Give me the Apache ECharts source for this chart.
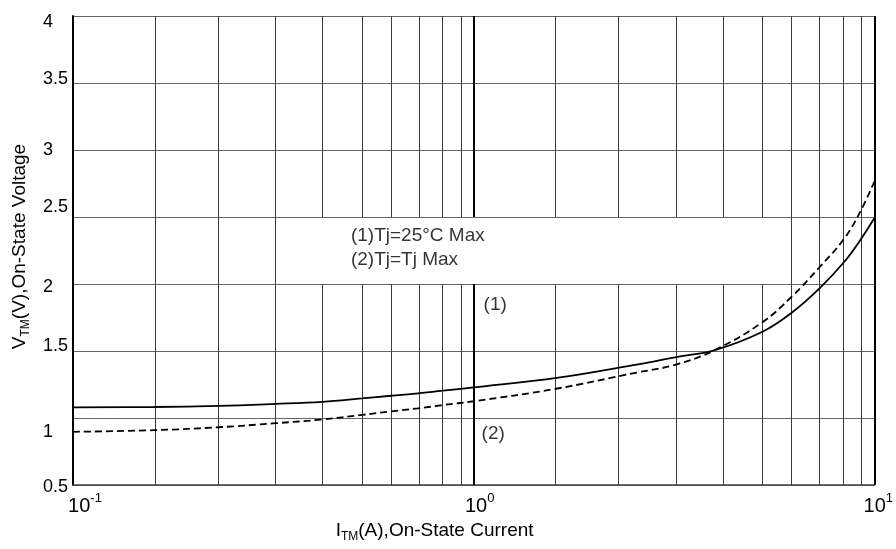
<!DOCTYPE html>
<html>
<head>
<meta charset="utf-8">
<script src="https://cdn.jsdelivr.net/npm/echarts@6/dist/echarts.min.js"></script>
<style>
html,body{margin:0;padding:0;background:#fff;}
#chart{width:896px;height:549px;}
</style>
</head>
<body>
<div id="chart"></div>
<script>
// ---- data ----
const current1 = [0.1, 0.159, 0.231, 0.320, 0.419, 0.526, 0.622, 0.726, 0.837, 1.0, 1.627, 2.573, 3.18, 4.0, 5.26, 6.22, 7.30, 8.42, 9.23, 10];
const voltage1 = [1.080, 1.082, 1.090, 1.105, 1.121, 1.146, 1.166, 1.184, 1.204, 1.228, 1.301, 1.401, 1.453, 1.507, 1.644, 1.786, 1.968, 2.166, 2.328, 2.490];
const current2 = [0.1, 0.159, 0.231, 0.320, 0.419, 0.526, 0.622, 0.726, 0.837, 1.0, 1.59, 2.573, 3.18, 4.0, 5.26, 6.22, 7.30, 8.42, 9.23, 10];
const voltage2 = [0.897, 0.909, 0.931, 0.961, 0.989, 1.023, 1.049, 1.072, 1.096, 1.125, 1.216, 1.341, 1.396, 1.507, 1.715, 1.905, 2.125, 2.340, 2.540, 2.763];

const xDecades = [0.1, 1, 10];
const xTickExp = ['-1', '0', '1'];
const gridMultipliers = [1.6, 2.3, 3.2, 4.2, 5.26, 6.22, 7.3, 8.37, 9.3];
const yTickLabels = ['0.5', '1', '1.5', '2', '2.5', '3', '3.5', '4'];
const boxX = [0.419, 6.22];
const boxY = [2, 2.5];

const annotationText = ['(1)Tj=25°C Max', '(2)Tj=Tj Max', '(1)', '(2)'];
const annotationX = [0.494, 0.494, 1.059, 1.047];
const annotationY = [2.358, 2.179, 1.843, 0.881];

// ---- build ----
const FONT = 'Liberation Sans, Arial, sans-serif';
const yMin = 0.5, yMax = 4;

// vertical grid segments
const vLines = [];
for (let d = 0; d < 2; d++) {
  gridMultipliers.forEach(m => {
    const x = xDecades[d] * m;
    if (x > boxX[0] + 1e-6 && x < boxX[1] - 1e-6) {
      vLines.push([{coord: [x, yMin]}, {coord: [x, boxY[0]]}]);
      vLines.push([{coord: [x, boxY[1]]}, {coord: [x, yMax]}]);
    } else {
      vLines.push([{coord: [x, yMin]}, {coord: [x, yMax]}]);
    }
  });
}
const majorLines = [
  [{coord: [xDecades[1], yMin]}, {coord: [xDecades[1], boxY[0]]}],
  [{coord: [xDecades[1], boxY[1]]}, {coord: [xDecades[1], yMax]}],
  [{coord: [xDecades[2], yMin]}, {coord: [xDecades[2], yMax]}]
];

const yShift = {'4': 6.5, '3.5': -4, '3': 0.5, '2.5': -10, '2': 3, '1.5': -5, '1': 14, '0.5': 2.5};
const yRich = {};
yTickLabels.forEach((t, i) => {
  const d = yShift[t] || 0;
  yRich['l' + i] = {
    fontSize: 18, fontFamily: FONT, color: '#000',
    padding: d >= 0 ? [2 * d, 0, 0, 0] : [0, 0, -2 * d, 0]
  };
});

const xShift = {'-1': 12, '0': 6, '1': 4};

const chart = echarts.init(document.getElementById('chart'), null, {renderer: 'canvas'});
chart.setOption({
  animation: false,
  backgroundColor: '#fff',
  grid: {left: 73, right: 19, top: 16, bottom: 64},
  xAxis: {
    type: 'log', logBase: 10, min: 0.1, max: 10,
    name: '{v|I}{s|TM}{v|(A),On-State Current}',
    nameLocation: 'middle', nameGap: 33,
    nameTextStyle: {
      padding: [0, 78, 0, 0],
      rich: {
        v: {fontSize: 19, fontFamily: FONT, color: '#000', lineHeight: 24},
        s: {fontSize: 12, fontFamily: FONT, color: '#000', lineHeight: 12, verticalAlign: 'bottom'}
      }
    },
    axisLine: {show: true, lineStyle: {color: '#444', width: 1.5}},
    axisTick: {show: false},
    splitLine: {show: false},
    minorTick: {show: false},
    axisLabel: {
      margin: 7,
      formatter: function (v) {
        const i = xDecades.findIndex(d => Math.abs(d - v) / d < 1e-6);
        if (i < 0) return '';
        const e = xTickExp[i];
        return '{p' + i + '|}{b|10}{s|' + e + '}';
      },
      rich: {
        b: {fontSize: 20, fontFamily: FONT, color: '#000', lineHeight: 24, verticalAlign: 'bottom'},
        s: {fontSize: 13, fontFamily: FONT, color: '#000', lineHeight: 14, verticalAlign: 'top'},
        p0: {width: 2 * xShift['-1']},
        p1: {width: 2 * xShift['0']},
        p2: {width: 2 * xShift['1']}
      }
    }
  },
  yAxis: {
    type: 'value', min: yMin, max: yMax, interval: 0.5,
    name: '{v|V}{s|TM}{v|(V),On-State Voltage}',
    nameLocation: 'middle', nameGap: 38,
    nameTextStyle: {
      padding: [0, 0, 0, 8],
      rich: {
        v: {fontSize: 19, fontFamily: FONT, color: '#000', lineHeight: 24},
        s: {fontSize: 12, fontFamily: FONT, color: '#000', lineHeight: 12, verticalAlign: 'bottom'}
      }
    },
    axisLine: {show: true, lineStyle: {color: '#000', width: 2}},
    axisTick: {show: false},
    splitLine: {show: true, lineStyle: {color: '#666', width: 1}},
    axisLabel: {
      margin: 30, align: 'left',
      formatter: function (v) {
        const i = yTickLabels.findIndex(t => Math.abs(parseFloat(t) - v) < 1e-6);
        if (i < 0) return '';
        return '{l' + i + '|' + yTickLabels[i] + '}';
      },
      rich: yRich
    }
  },
  series: [
    {
      name: 'grid', type: 'line', data: [], silent: true, z: 1,
      markLine: {
        silent: true, symbol: 'none', animation: false,
        label: {show: false},
        lineStyle: {color: '#3a3a3a', width: 1, type: 'solid'},
        data: vLines
      }
    },
    {
      name: 'major', type: 'line', data: [], silent: true, z: 1,
      markLine: {
        silent: true, symbol: 'none', animation: false,
        label: {show: false},
        lineStyle: {color: '#000', width: 2, type: 'solid'},
        data: majorLines
      }
    },
    {
      name: '(1)', type: 'line', smooth: 0.4, symbol: 'none', z: 5,
      lineStyle: {color: '#000', width: 1.8, type: 'solid'},
      data: current1.map((x, i) => [x, voltage1[i]])
    },
    {
      name: '(2)', type: 'line', smooth: 0.4, symbol: 'none', z: 5,
      lineStyle: {color: '#000', width: 1.8, type: [7, 4]},
      data: current2.map((x, i) => [x, voltage2[i]])
    },
    {
      name: 'annotations', type: 'scatter', symbolSize: 0, silent: true, z: 6,
      data: annotationText.map((t, i) => [annotationX[i], annotationY[i], t]),
      label: {
        show: true, position: [0, 0], align: 'left', verticalAlign: 'middle',
        formatter: p => p.value[2],
        fontSize: 19, fontFamily: FONT, color: '#000'
      }
    }
  ]
});
</script>
</body>
</html>
